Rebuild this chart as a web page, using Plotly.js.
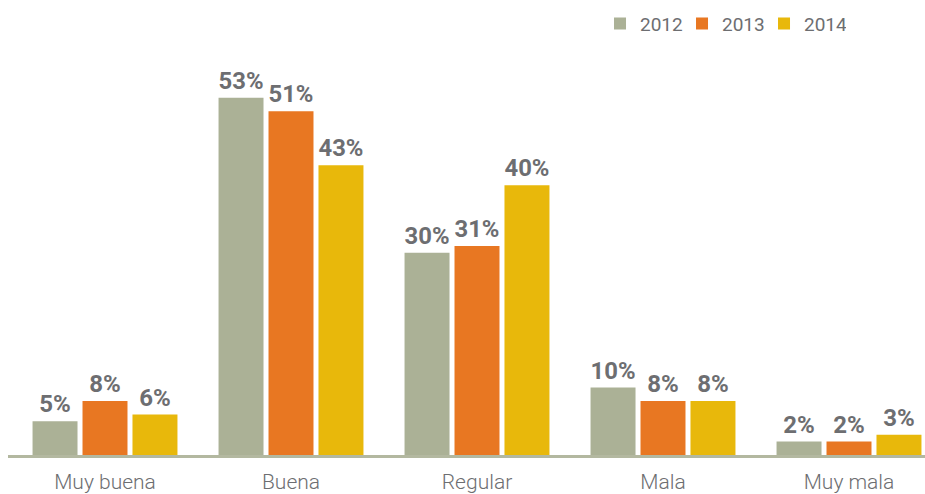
<!DOCTYPE html>
<html>
<head>
<meta charset="utf-8">
<script src="https://cdn.plot.ly/plotly-3.0.1.min.js"></script>
<style>html,body{margin:0;padding:0;background:#fff;}#chart{width:925px;height:494px;}</style>
</head>
<body>
<div id="chart"></div>
<script>
const categories = ["Muy buena", "Buena", "Regular", "Mala", "Muy mala"];
const years = ["2012", "2013", "2014"];
const values2012 = [5, 53, 30, 10, 2];
const values2013 = [8, 51, 31, 8, 2];
const values2014 = [6, 43, 40, 8, 3];
const colors = ["#abb196", "#e87722", "#e8b80b"];

const series = [values2012, values2013, values2014];
const traces = series.map((vals, i) => ({
  type: "bar",
  name: years[i],
  x: categories,
  y: vals,
  marker: {color: colors[i]},
  text: vals.map(v => v + "%"),
  textposition: "outside",
  cliponaxis: false,
  textfont: {family: "Roboto, Arial, sans-serif", size: 24, color: "#6d6e71", weight: "bold"},
  hoverinfo: "none"
}));

const layout = {
  width: 925, height: 494,
  margin: {l: 8, r: 0, t: 0, b: 39, autoexpand: false},
  paper_bgcolor: "#fff", plot_bgcolor: "#fff",
  barmode: "group",
  bargap: 0.194,
  bargroupgap: 0.1,
  showlegend: true,
  legend: {
    orientation: "h", x: 0.6456, xanchor: "left", y: 0.99, yanchor: "top",
    font: {family: "Roboto, Arial, sans-serif", size: 19, color: "#6d6e71"},
    traceorder: "normal", itemwidth: 30, entrywidth: 37, bgcolor: "rgba(0,0,0,0)"
  },
  xaxis: {
    type: "category",
    range: [-0.5215, 4.4086],
    showline: true, linecolor: "#b3b8a0", linewidth: 3,
    ticks: "", showgrid: false, zeroline: false,
    ticklabelstandoff: 6,
    tickfont: {family: "Roboto, Arial, sans-serif", size: 21, color: "#6d6e71", weight: 300}
  },
  yaxis: {
    range: [0, 67.5],
    visible: false, showgrid: false, zeroline: false
  }
};

Plotly.newPlot("chart", traces, layout, {displayModeBar: false, staticPlot: true});
</script>
</body>
</html>
